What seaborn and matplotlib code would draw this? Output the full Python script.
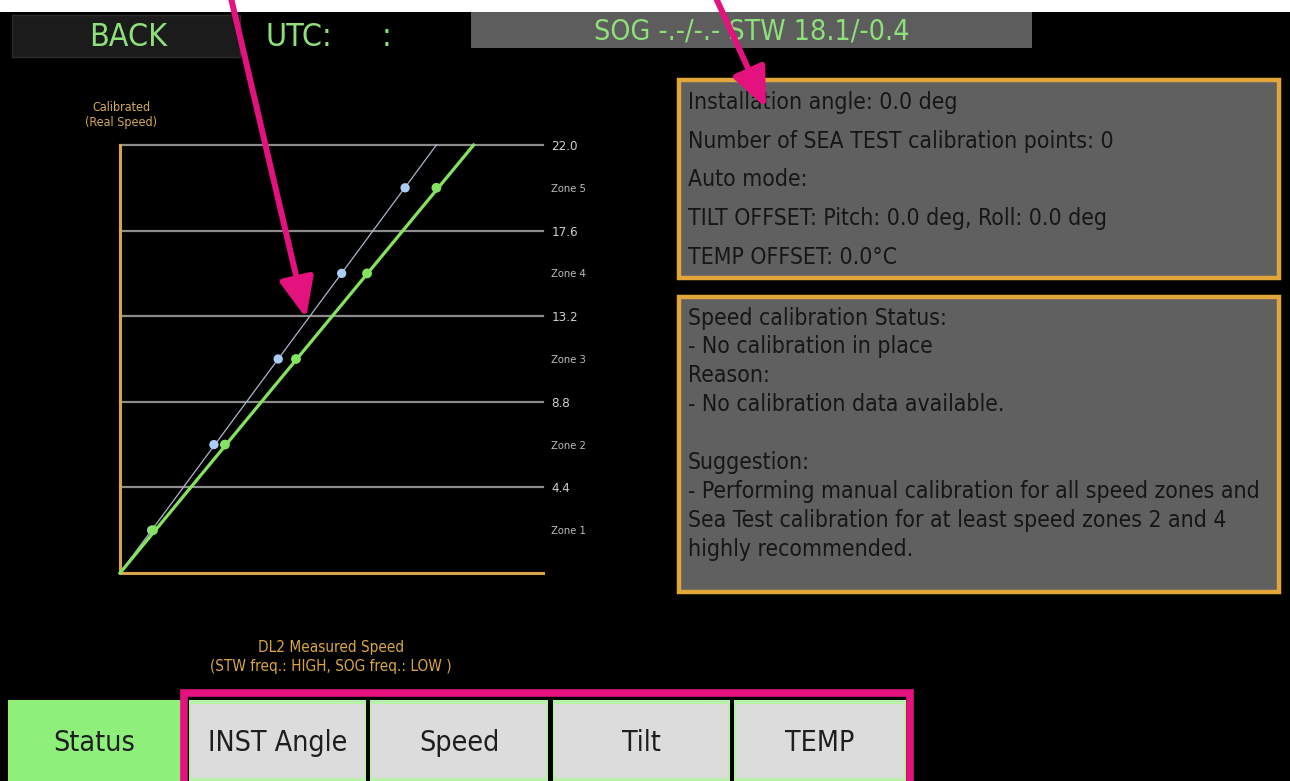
import matplotlib
matplotlib.use("Agg")
import matplotlib.pyplot as plt
from matplotlib.patches import Rectangle, FancyArrowPatch
import seaborn as sns

# ----------------------------------------
# Data
# ----------------------------------------
zone_real = [2.2, 6.6, 11.0, 15.4, 19.8]            # calibrated (real) speed, zone centres
green_measured = [1.95, 6.2, 10.4, 14.6, 18.7]      # DL2 measured speed, green curve
blue_measured = [1.87, 5.55, 9.35, 13.1, 16.85]     # DL2 measured speed, blue curve
green_line_x = [0.0, 20.9]
blue_line_x = [0.0, 18.7]
line_y = [0.0, 22.0]

grid_levels = [4.4, 8.8, 13.2, 17.6, 22.0]
grid_labels = ["4.4", "8.8", "13.2", "17.6", "22.0"]
zone_labels = ["Zone 1", "Zone 2", "Zone 3", "Zone 4", "Zone 5"]

info_lines = [
    "Installation angle: 0.0 deg",
    "Number of SEA TEST calibration points: 0",
    "Auto mode:",
    "TILT OFFSET: Pitch: 0.0 deg, Roll: 0.0 deg",
    "TEMP OFFSET: 0.0\u00b0C",
]
status_lines = [
    "Speed calibration Status:",
    "- No calibration in place",
    "Reason:",
    "- No calibration data available.",
    "",
    "Suggestion:",
    "- Performing manual calibration for all speed zones and",
    "Sea Test calibration for at least speed zones 2 and 4",
    "highly recommended.",
]
tabs = ["Status", "INST Angle", "Speed", "Tilt", "TEMP"]

# ----------------------------------------
# Colours
# ----------------------------------------
GREEN = "#84e35f"
UI_GREEN = "#8fe07a"
BLUE = "#a9cdf5"
ORANGE = "#e3a63a"
AXIS_ORANGE = "#d9a44a"
PINK = "#e3127f"
PANEL = "#606060"

W, H = 1290, 781
FONT = ["DejaVu Sans"]


def fx(x):
    return x / W


def fy(y):
    return 1 - y / H


def rect(fig, x0, y0, x1, y1, fc, ec="none", lw=0, z=1):
    fig.add_artist(Rectangle((fx(x0), fy(y1)), (x1 - x0) / W, (y1 - y0) / H,
                             transform=fig.transFigure, facecolor=fc,
                             edgecolor=ec, linewidth=lw, zorder=z))


def txt(fig, x, y, s, size, color, ha="left", **kw):
    fig.text(fx(x), fy(y), s, fontsize=size, color=color, ha=ha, va="center",
             family=FONT, fontstretch="condensed", **kw)


fig = plt.figure(figsize=(W / 100, H / 100), dpi=100, facecolor="black")

# white strip at top of the screenshot
rect(fig, 0, 0, W, 12, "white", z=0)

# ----------------------------------------
# Header bar
# ----------------------------------------
rect(fig, 12, 15, 240, 57, "#1b1b1b", ec="#2c2c2c", lw=1)
txt(fig, 128, 37, "BACK", 23, UI_GREEN, ha="center")
txt(fig, 265, 37, "UTC:", 23, UI_GREEN)
txt(fig, 382, 37, ":", 23, UI_GREEN)
rect(fig, 471, 12, 1032, 48, "#5d5d5d")
txt(fig, 752, 31, "SOG -.-/-.- STW 18.1/-0.4", 20.5, UI_GREEN, ha="center")

# ----------------------------------------
# Calibration chart
# ----------------------------------------
ax = fig.add_axes([fx(120), fy(573), 423 / W, 428 / H])
ax.set_facecolor("black")
for lv in grid_levels:
    ax.axhline(lv, color="#8c8c8c", lw=1.6, zorder=1, clip_on=False)

sns.lineplot(x=blue_line_x, y=line_y, ax=ax, color="#aab6cc", linewidth=0.9,
             zorder=3, clip_on=False)
sns.lineplot(x=green_line_x, y=line_y, ax=ax, color=GREEN, linewidth=2.3,
             zorder=4, clip_on=False)
sns.scatterplot(x=blue_measured, y=zone_real, ax=ax, color=BLUE, s=45,
                edgecolor="none", zorder=5)
sns.scatterplot(x=green_measured, y=zone_real, ax=ax, color=GREEN, s=50,
                edgecolor="none", zorder=6)

ax.set_xlim(0, 25)
ax.set_ylim(0, 22)
ax.set_xticks([])
ax.yaxis.tick_right()
ax.set_yticks(grid_levels + zone_real)
ax.set_yticklabels(grid_labels + zone_labels)
ax.tick_params(axis="y", length=0, pad=6, colors="#cfcfcf", labelsize=9.5)
for lab in ax.get_yticklabels():
    lab.set_family(FONT)
    lab.set_fontstretch("condensed")
    if lab.get_text().startswith("Zone"):
        lab.set_fontsize(8)
        lab.set_color("#bdbdbd")
for side in ["top", "right"]:
    ax.spines[side].set_visible(False)
for side in ["left", "bottom"]:
    ax.spines[side].set_color(AXIS_ORANGE)
    ax.spines[side].set_linewidth(2.2)
ax.set_xlabel("")
ax.set_ylabel("")

fig.text(fx(121), fy(115), "Calibrated\n(Real Speed)", fontsize=9, color="#d4ac55",
         ha="center", va="center", family=FONT, fontstretch="condensed",
         linespacing=1.2)
fig.text(fx(331), fy(657), "DL2 Measured Speed\n(STW freq.: HIGH, SOG freq.: LOW )",
         fontsize=11, color="#d9a845", ha="center", va="center", family=FONT,
         fontstretch="condensed", linespacing=1.35)

# ----------------------------------------
# Info panels
# ----------------------------------------
rect(fig, 679, 80, 1279, 278, PANEL, ec=ORANGE, lw=3.2)
for i, line in enumerate(info_lines):
    txt(fig, 688, 103 + i * 38.5, line, 16.5, "#161616")

rect(fig, 679, 297, 1279, 592, PANEL, ec=ORANGE, lw=3.2)
for i, line in enumerate(status_lines):
    txt(fig, 688, 318 + i * 28.9, line, 16.5, "#161616")

# ----------------------------------------
# Bottom tab bar
# ----------------------------------------
tab_x = [(8, 181), (189, 366), (370, 548), (553, 730), (734, 906)]
for i, (name, (x0, x1)) in enumerate(zip(tabs, tab_x)):
    if i == 0:
        rect(fig, x0, 700, x1, 781, "#8ef07a")
    else:
        rect(fig, x0, 700, x1, 781, "#b8f0a8")
        rect(fig, x0 + 2, 704, x1 - 2, 778, "#dcdcdc")
    txt(fig, (x0 + x1) / 2, 743, name, 20.5, "#1e1e1e", ha="center")

rect(fig, 184, 693, 910, 784, "none", ec=PINK, lw=5.5, z=5)

# ----------------------------------------
# Annotation arrows
# ----------------------------------------
for (x0, y0), (x1, y1) in [((231, -2), (306, 318)), ((716, -2), (766, 108))]:
    fig.add_artist(FancyArrowPatch((fx(x0), fy(y0)), (fx(x1), fy(y1)),
                                   transform=fig.transFigure, color=PINK,
                                   arrowstyle="-|>,head_length=1.5,head_width=0.65",
                                   mutation_scale=16, linewidth=4.3, zorder=10,
                                   shrinkA=0, shrinkB=0))

fig.savefig("out.png", dpi=100, facecolor="black")
